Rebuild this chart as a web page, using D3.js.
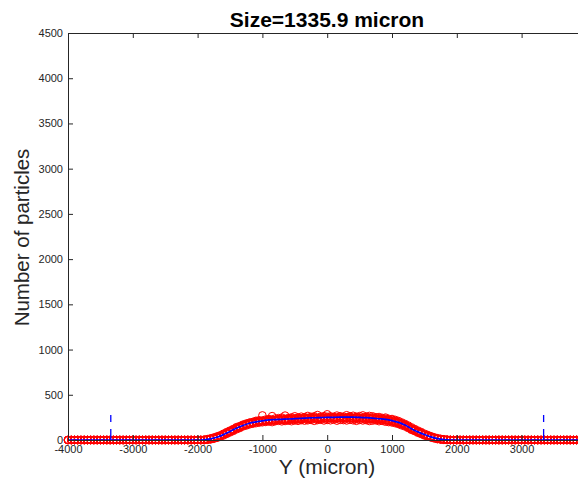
<!DOCTYPE html>
<html>
<head>
<meta charset="utf-8">
<script src="https://cdn.jsdelivr.net/npm/d3@7"></script>
<style>
  html, body { margin: 0; padding: 0; background: #fff; }
  svg { display: block; font-family: "Liberation Sans", Arial, Helvetica, sans-serif; }
</style>
</head>
<body>
<svg id="chart" width="578" height="483"></svg>
<script>
// Histogram bin centres along Y (micron), 50 micron bins
const binsY = [
  -4000, -3950, -3900, -3850, -3800, -3750, -3700, -3650, -3600, -3550,
  -3500, -3450, -3400, -3350, -3300, -3250, -3200, -3150, -3100, -3050,
  -3000, -2950, -2900, -2850, -2800, -2750, -2700, -2650, -2600, -2550,
  -2500, -2450, -2400, -2350, -2300, -2250, -2200, -2150, -2100, -2050,
  -2000, -1950,
  -1900, -1850, -1800, -1750, -1700, -1650, -1600, -1550, -1500,
  -1450, -1400, -1350, -1300, -1250, -1200, -1150, -1100, -1050,
  -1000, -950, -900, -850, -800, -750, -700, -650, -600,
  -550, -500, -450, -400, -350, -300, -250, -200, -150,
  -100, -50, 0, 50, 100, 150, 200, 250, 300,
  350, 400, 450, 500, 550, 600, 650, 700, 750,
  800, 850, 900, 950, 1000, 1050, 1100, 1150, 1200,
  1250, 1300, 1350, 1400, 1450, 1500, 1550, 1600, 1650,
  1700, 1750, 1800, 1850, 1900,
  1950, 2000,
  2050, 2100, 2150, 2200, 2250, 2300, 2350, 2400, 2450, 2500,
  2550, 2600, 2650, 2700, 2750, 2800, 2850, 2900, 2950, 3000,
  3050, 3100, 3150, 3200, 3250, 3300, 3350, 3400, 3450, 3500,
  3550, 3600, 3650, 3700, 3750, 3800, 3850, 3900, 3950, 4000
];

// Particle counts per bin, one array per sample
const countsA = [
  0,0,0,0,0,0,0,0,0,0, 0,0,0,0,0,0,0,0,0,0, 0,0,0,0,0,0,0,0,0,0, 0,0,0,0,0,0,0,0,0,0, 0,0,
  0, 4, 10, 22, 28, 47, 58, 80, 92,
  115, 126, 148, 156, 176, 182, 190, 198, 204,
  208, 212, 218, 214, 222, 230, 224, 219, 232,
  226, 238, 228, 236, 241, 230, 244, 236, 240,
  233, 246, 238, 242, 236, 248, 240, 234, 246,
  238, 244, 232, 240, 236, 242, 230, 236, 226,
  228, 218, 222, 210, 206, 196, 188, 172, 158,
  140, 118, 104, 86, 72, 56, 44, 32, 22,
  12, 8, 3, 1, 0,
  0,0, 0,0,0,0,0,0,0,0,0,0, 0,0,0,0,0,0,0,0,0,0, 0,0,0,0,0,0,0,0,0,0, 0,0,0,0,0,0,0,0,0,0
];
const countsB = [
  0,0,0,0,0,0,0,0,0,0, 0,0,0,0,0,0,0,0,0,0, 0,0,0,0,0,0,0,0,0,0, 0,0,0,0,0,0,0,0,0,0, 0,0,
  1, 8, 15, 18, 34, 40, 64, 72, 100,
  108, 136, 140, 165, 168, 190, 186, 205, 200,
  215, 206, 225, 220, 216, 224, 236, 228, 222,
  240, 230, 246, 232, 250, 238, 234, 252, 242,
  250, 238, 256, 244, 252, 240, 258, 246, 250,
  256, 240, 252, 248, 238, 254, 244, 248, 236,
  240, 230, 236, 220, 224, 210, 198, 186, 168,
  150, 130, 112, 96, 80, 62, 50, 38, 26,
  18, 10, 6, 2, 0,
  0,0, 0,0,0,0,0,0,0,0,0,0, 0,0,0,0,0,0,0,0,0,0, 0,0,0,0,0,0,0,0,0,0, 0,0,0,0,0,0,0,0,0,0
];
const countsC = [
  0,0,0,0,0,0,0,0,0,0, 0,0,0,0,0,0,0,0,0,0, 0,0,0,0,0,0,0,0,0,0, 0,0,0,0,0,0,0,0,0,0, 0,0,
  0, 2, 6, 14, 24, 36, 50, 68, 84,
  100, 118, 132, 150, 160, 172, 180, 186, 192,
  196, 200, 204, 198, 208, 212, 206, 210, 214,
  208, 216, 212, 220, 214, 218, 222, 212, 220,
  224, 216, 222, 218, 226, 214, 222, 220, 216,
  224, 218, 212, 222, 216, 220, 210, 214, 218,
  208, 212, 202, 198, 194, 186, 176, 162, 150,
  132, 112, 98, 80, 66, 50, 38, 28, 18,
  10, 5, 2, 0, 0,
  0,0, 0,0,0,0,0,0,0,0,0,0, 0,0,0,0,0,0,0,0,0,0, 0,0,0,0,0,0,0,0,0,0, 0,0,0,0,0,0,0,0,0,0
];
const countsD = [
  0,0,0,0,0,0,0,0,0,0, 0,0,0,0,0,0,0,0,0,0, 0,0,0,0,0,0,0,0,0,0, 0,0,0,0,0,0,0,0,0,0, 0,0,
  3, 10, 18, 28, 40, 52, 70, 88, 104,
  122, 142, 154, 170, 182, 192, 200, 212, 218,
  272, 226, 232, 264, 238, 242, 248, 270, 244,
  250, 262, 248, 258, 252, 266, 256, 262, 276,
  258, 264, 284, 262, 256, 270, 262, 258, 274,
  262, 268, 256, 264, 272, 258, 266, 262, 252,
  254, 244, 248, 234, 232, 222, 210, 194, 178,
  160, 140, 122, 104, 88, 70, 56, 42, 30,
  20, 13, 8, 4, 1,
  0,0, 0,0,0,0,0,0,0,0,0,0, 0,0,0,0,0,0,0,0,0,0, 0,0,0,0,0,0,0,0,0,0, 0,0,0,0,0,0,0,0,0,0
];
const countsE = [
  0,0,0,0,0,0,0,0,0,0, 0,0,0,0,0,0,0,0,0,0, 0,0,0,0,0,0,0,0,0,0, 0,0,0,0,0,0,0,0,0,0, 0,0,
  0, 5, 12, 20, 32, 44, 62, 76, 96,
  112, 130, 144, 162, 172, 184, 194, 200, 206,
  210, 216, 212, 226, 220, 228, 222, 232, 226,
  232, 226, 236, 230, 238, 244, 236, 242, 232,
  240, 246, 236, 250, 242, 236, 248, 242, 238,
  246, 236, 244, 238, 248, 232, 240, 232, 240,
  226, 232, 216, 218, 208, 200, 190, 178, 162,
  146, 124, 106, 90, 74, 58, 44, 34, 24,
  14, 8, 4, 1, 0,
  0,0, 0,0,0,0,0,0,0,0,0,0, 0,0,0,0,0,0,0,0,0,0, 0,0,0,0,0,0,0,0,0,0, 0,0,0,0,0,0,0,0,0,0
];
const samples = [countsA, countsB, countsC, countsD, countsE];

// Fitted profile
const fitY = [
  -4000, -3500, -3000, -2500, -2100, -2000,
  -1900, -1800, -1700, -1600, -1500, -1400, -1300, -1200, -1100,
  -1000, -900, -800, -700, -600, -500, -400, -300, -200, -100,
  0, 100, 200, 300, 400, 500, 600, 700, 800, 900,
  1000, 1100, 1200, 1300, 1400, 1500, 1600, 1700, 1800, 1900,
  2000, 2100, 2500, 3000, 3500, 4000
];
const fitCounts = [
  0, 0, 0, 0, 0, 0,
  2, 12, 30, 60, 95, 130, 160, 185, 200,
  212, 222, 226, 229, 232, 236, 240, 243, 246, 248,
  250, 251, 252, 252, 252, 250, 247, 242, 235, 228,
  215, 195, 165, 125, 90, 60, 35, 15, 5, 0,
  0, 0, 0, 0, 0, 0
];

// Sampling window markers (+/- 2.5 x size)
const size = 1335.9;
const markerY = [-2.5 * size, 2.5 * size];
const markerTop = 280;

const xTicks = [-4000, -3000, -2000, -1000, 0, 1000, 2000, 3000];
const yTicks = [0, 500, 1000, 1500, 2000, 2500, 3000, 3500, 4000, 4500];

const svg = d3.select("#chart");
const plotLeft = 68, plotRight = 586.4, plotTop = 33, plotBottom = 440;
const x = d3.scaleLinear().domain([-4000, 4000]).range([plotLeft, plotRight]);
const y = d3.scaleLinear().domain([0, 4500]).range([plotBottom, plotTop]);
const axisColor = "#262626";
const fmt = d => String(d);

// Scatter of all samples
const pts = [];
samples.forEach(s => s.forEach((v, i) => {
  if (binsY[i] !== undefined && v !== undefined) pts.push([binsY[i], v]);
}));
svg.append("g")
  .selectAll("circle")
  .data(pts)
  .join("circle")
  .attr("cx", d => x(d[0]))
  .attr("cy", d => y(d[1]))
  .attr("r", 3.8)
  .attr("fill", "none")
  .attr("stroke", "#ff0000")
  .attr("stroke-width", 1);

// Fitted curve
const fitLine = d3.line().x(d => x(d[0])).y(d => y(d[1])).curve(d3.curveMonotoneX);
svg.append("path")
  .datum(fitY.map((b, i) => [b, fitCounts[i]]))
  .attr("fill", "none")
  .attr("stroke", "#0000ff")
  .attr("stroke-width", 1.7)
  .attr("d", fitLine);

// Dashed markers
svg.append("g")
  .selectAll("line")
  .data(markerY)
  .join("line")
  .attr("x1", d => x(d)).attr("x2", d => x(d))
  .attr("y1", y(0)).attr("y2", y(markerTop))
  .attr("stroke", "#0000ff")
  .attr("stroke-width", 1.3)
  .attr("stroke-dasharray", "11,7,7");

// Axes: inward ticks, box on top and left
const gx = svg.append("g").attr("transform", `translate(0,${plotBottom})`)
  .call(d3.axisBottom(x).tickValues(xTicks).tickSize(-5).tickPadding(5.5).tickFormat(fmt));
const gt = svg.append("g").attr("transform", `translate(0,${plotTop})`)
  .call(d3.axisTop(x).tickValues(xTicks).tickSize(-5).tickFormat(""));
const gy = svg.append("g").attr("transform", `translate(${plotLeft},0)`)
  .call(d3.axisLeft(y).tickValues(yTicks).tickSize(-5).tickPadding(5).tickFormat(fmt));

[gx, gt, gy].forEach(g => {
  g.select(".domain").attr("stroke", axisColor).attr("stroke-width", 1);
  g.selectAll(".tick line").attr("stroke", axisColor);
  g.selectAll(".tick text").attr("fill", axisColor)
    .style("font-size", "11px")
    .style("font-family", "'Liberation Sans', Arial, Helvetica, sans-serif");
});

// Title and axis labels
svg.append("text")
  .attr("x", 327).attr("y", 27)
  .attr("text-anchor", "middle")
  .style("font-weight", "bold")
  .style("font-size", "21px")
  .attr("fill", "#000")
  .text("Size=1335.9 micron");

svg.append("text")
  .attr("x", 327).attr("y", 474)
  .attr("text-anchor", "middle")
  .style("font-size", "21px")
  .attr("fill", axisColor)
  .text("Y (micron)");

svg.append("text")
  .attr("transform", `translate(29,${(plotTop + plotBottom) / 2 + 1}) rotate(-90)`)
  .attr("text-anchor", "middle")
  .style("font-size", "20.5px")
  .attr("fill", axisColor)
  .text("Number of particles");
</script>
</body>
</html>
